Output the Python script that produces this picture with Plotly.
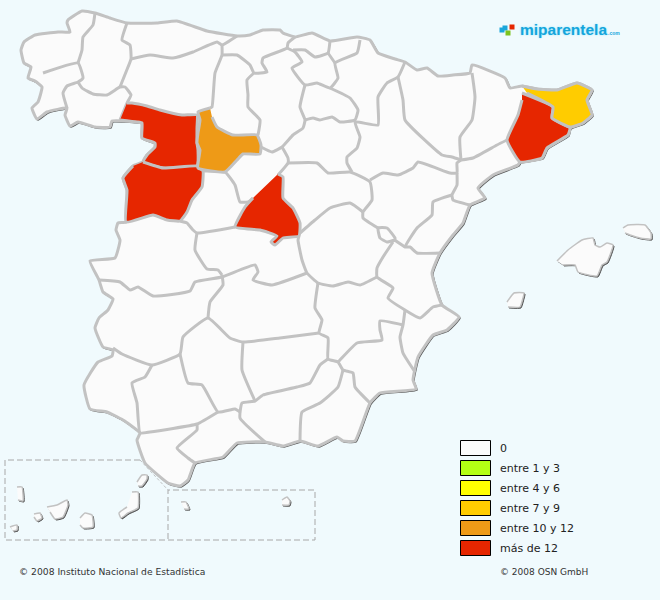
"""Spain province map of surname counts, redrawn with Plotly scatter polygons.
All outlines are in image pixels, x to the right and y downward.
"""

import plotly.graph_objects as go

# colours of the count classes
class_labels = ["0", "entre 1 y 3", "entre 4 y 6", "entre 7 y 9", "entre 10 y 12", "más de 12"]
class_colors = ["#FBFBFB", "#B4FF14", "#FFFF00", "#FFCC00", "#EE9A17", "#E62600"]

BACKGROUND = "#F0FAFD"
BORDER = "#C2C2C2"
SHADOW = "#555555"
DASH = "#A8A8A8"

# outline of the mainland
mainland = [
    (82, 11), (95, 13), (110, 18), (127, 23), (157, 23), (177, 21), (207, 31), (237, 36),
    (250, 35), (263, 30), (280, 30), (283, 33), (295, 37), (312, 33), (330, 41), (357, 37),
    (370, 40), (378, 53), (395, 59), (405, 62), (417, 70), (427, 68), (438, 76), (453, 75),
    (470, 73), (472, 65), (505, 78), (510, 88), (522, 86), (537, 89), (557, 90), (577, 83),
    (592, 90), (587, 100), (592, 115), (583, 123), (570, 128), (568, 135), (547, 148),
    (542, 158), (520, 162), (518, 165), (493, 175), (478, 188), (485, 198), (470, 205),
    (463, 223), (453, 235), (440, 253), (432, 273), (442, 305), (459, 317), (447, 330),
    (433, 335), (418, 357), (413, 380), (416, 389), (380, 393), (370, 403), (355, 441),
    (343, 441), (337, 437), (318, 446), (300, 441), (283, 446), (265, 442), (237, 443),
    (223, 457), (195, 463), (188, 480), (180, 486), (168, 483), (145, 463), (137, 440),
    (140, 433), (123, 420), (107, 412), (90, 409), (84, 385), (98, 362), (112, 356),
    (113, 350), (103, 347), (95, 328), (99, 318), (108, 310), (113, 299), (103, 292),
    (99, 280), (90, 261), (115, 258), (120, 240), (116, 230), (118, 223), (126, 222),
    (127, 190), (123, 178), (133, 166), (143, 162), (147, 155), (155, 147), (155, 143),
    (142, 138), (142, 123), (137, 122), (112, 121), (110, 127), (95, 127), (78, 122),
    (70, 126), (65, 115), (67, 108), (47, 112), (37, 119), (32, 108), (38, 102), (42, 87),
    (35, 81), (28, 78), (31, 67), (24, 63), (21, 50), (24, 42), (35, 35), (58, 32),
    (70, 32), (67, 23), (68, 20), (82, 11),
]

# islands and the two cities
mallorca = [(557, 261), (568, 250), (582, 240), (593, 238), (595, 245), (600, 247), (607, 243),
            (613, 245), (607, 262), (602, 265), (597, 276), (578, 272), (575, 265), (563, 265)]
menorca = [(623, 228), (628, 225), (645, 225), (651, 233), (651, 239), (640, 238), (630, 235), (625, 233)]
ibiza = [(507, 302), (514, 293), (524, 293), (523, 298), (520, 307), (508, 307)]
lanzarote = [(137, 482), (142, 475), (147, 475), (147, 479), (142, 486), (138, 486)]
fuerteventura = [(132, 492), (138, 492), (138, 508), (128, 513), (121, 518), (119, 513), (127, 507)]
gran_canaria = [(80, 518), (85, 513), (92, 515), (93, 527), (83, 528), (80, 525)]
tenerife = [(47, 507), (57, 505), (67, 500), (68, 505), (63, 517), (55, 519), (50, 512)]
la_gomera = [(34, 514), (40, 513), (42, 518), (37, 521), (34, 517)]
la_palma = [(17, 487), (22, 487), (23, 501), (18, 500)]
el_hierro = [(10, 527), (17, 525), (17, 530), (13, 531)]
ceuta = [(181, 502), (186, 502), (189, 509), (184, 509)]
melilla = [(282, 500), (287, 497), (290, 501), (289, 505), (282, 505)]
islands = [mallorca, menorca, ibiza, lanzarote, fuerteventura, gran_canaria, tenerife,
           la_gomera, la_palma, el_hierro, ceuta, melilla]

# provinces with a count above zero
zamora = [(127, 103), (132, 103), (147, 106), (160, 110), (182, 115), (197, 115), (197, 128),
          (197, 143), (198, 150), (197, 166), (163, 168), (143, 162), (147, 155), (155, 147),
          (155, 143), (142, 138), (142, 123), (137, 122), (120, 120)]
salamanca = [(143, 162), (163, 168), (197, 166), (203, 171), (202, 187), (192, 200), (187, 212),
             (180, 221), (167, 220), (153, 215), (126, 222), (127, 190), (123, 178), (133, 166)]
valladolid = [(210, 108), (198, 112), (200, 120), (198, 133), (197, 143), (200, 150), (198, 168),
              (225, 172), (237, 160), (243, 154), (260, 154), (261, 145), (257, 135), (233, 135),
              (217, 127), (212, 117)]
madrid = [(278, 174), (283, 177), (283, 198), (293, 208), (300, 223), (299, 236), (283, 238),
          (275, 245), (271, 242), (277, 236), (260, 230), (235, 227), (245, 207), (253, 198)]
barcelona = [(522, 93), (553, 107), (552, 118), (570, 128), (568, 135), (547, 148), (542, 158),
             (520, 162), (507, 140), (518, 115), (522, 100)]
girona = [(522, 86), (537, 89), (557, 90), (577, 83), (592, 90), (587, 100), (592, 115), (583, 123),
          (570, 127), (552, 118), (553, 107), (527, 93)]
province_shapes = [zamora, salamanca, valladolid, madrid, barcelona, girona]
province_classes = [5, 5, 4, 5, 5, 3]

# borders between provinces
borders = [
    [(95, 13), (93, 25), (83, 37), (82, 50), (78, 63)],
    [(43, 73), (78, 63), (83, 78), (78, 82), (67, 86), (63, 93), (67, 108)],
    [(78, 82), (82, 88), (93, 94), (107, 95), (120, 87), (125, 87), (131, 95), (127, 103), (120, 120)],
    [(127, 23), (122, 40), (130, 45), (131, 59), (126, 72), (120, 87)],
    [(131, 59), (150, 55), (173, 58), (193, 52), (217, 42), (222, 45), (237, 36)],
    [(222, 45), (222, 55), (215, 73), (212, 107), (210, 108)],
    [(222, 55), (237, 55), (250, 65), (254, 73), (267, 72), (262, 63), (263, 58), (287, 48), (288, 43), (295, 37)],
    [(254, 73), (247, 80), (248, 95), (248, 107), (260, 120), (258, 135)],
    [(287, 48), (295, 52), (302, 62), (292, 68), (305, 85), (317, 83), (330, 88), (338, 78), (335, 63),
     (357, 53), (360, 40)],
    [(293, 50), (305, 50), (315, 57), (328, 53), (330, 41)],
    [(328, 53), (335, 63)],
    [(305, 85), (300, 107), (305, 120), (303, 128), (293, 135), (282, 147), (272, 152), (261, 147)],
    [(330, 88), (350, 98), (358, 110), (355, 120), (340, 122), (332, 117), (320, 120), (313, 118), (305, 120)],
    [(405, 62), (398, 77), (387, 83), (378, 97), (378, 125), (355, 122), (360, 137), (357, 148),
     (347, 157), (347, 163), (352, 172)],
    [(398, 77), (403, 100), (405, 120), (442, 155), (452, 157), (461, 160)],
    [(472, 73), (475, 97), (472, 120), (460, 137), (461, 160)],
    [(461, 160), (473, 158), (497, 145), (507, 140)],
    [(370, 180), (383, 173), (398, 175), (413, 168), (418, 162), (450, 173), (457, 173), (457, 163), (461, 160)],
    [(457, 173), (457, 185), (452, 195), (453, 200), (470, 205)],
    [(452, 195), (433, 202), (432, 215), (417, 228), (405, 247), (410, 247), (417, 253), (440, 253)],
    [(405, 247), (395, 240), (395, 238), (387, 228), (378, 228), (380, 238), (387, 242), (395, 240)],
    [(393, 242), (383, 257), (377, 268), (377, 277), (393, 288), (388, 298), (405, 310), (420, 318),
     (433, 307), (442, 305)],
    [(405, 310), (403, 325), (400, 337), (403, 353), (415, 372)],
    [(403, 325), (380, 321), (380, 330), (382, 340), (357, 343), (340, 360), (338, 362)],
    [(377, 277), (360, 285), (348, 282), (333, 286), (318, 283), (307, 273), (302, 260), (298, 240), (299, 236)],
    [(318, 283), (315, 308), (322, 320), (319, 333), (328, 338), (328, 359), (338, 362), (343, 370),
     (353, 373), (355, 387), (370, 403)],
    [(319, 333), (280, 338), (243, 342), (230, 338), (208, 318), (183, 337), (180, 354), (152, 365),
     (122, 354), (113, 348)],
    [(328, 359), (320, 365), (310, 383), (297, 387), (263, 395), (255, 401), (242, 403), (240, 418), (265, 442)],
    [(343, 370), (338, 387), (320, 403), (302, 412), (300, 441)],
    [(243, 342), (242, 370), (255, 401)],
    [(180, 354), (188, 383), (202, 385), (218, 412), (235, 409), (240, 412)],
    [(152, 365), (145, 377), (132, 383), (137, 403), (140, 433), (150, 432), (197, 424), (218, 412)],
    [(197, 424), (197, 430), (177, 448), (188, 458), (195, 463)],
    [(99, 280), (120, 282), (130, 290), (138, 287), (153, 296), (190, 291), (195, 282), (222, 277),
     (255, 265), (258, 272), (253, 280), (272, 285), (307, 273)],
    [(222, 275), (223, 285), (210, 302), (208, 318)],
    [(197, 233), (195, 250), (207, 269), (218, 270), (222, 275)],
    [(180, 221), (187, 223), (193, 230), (197, 233), (235, 227)],
    [(203, 171), (225, 172), (235, 185), (240, 202), (248, 202), (253, 198)],
    [(282, 147), (288, 158), (288, 163), (278, 175)],
    [(288, 163), (317, 163), (328, 173), (350, 172), (370, 182), (372, 200), (363, 212), (363, 218), (378, 228)],
    [(363, 212), (350, 203), (330, 208), (315, 220), (300, 233)],
]

# dashed inset frames of the Canary Islands, Ceuta and Melilla
inset_frame = [(140, 460), (5, 460), (5, 540), (315, 540), (315, 490), (168, 490), (168, 540)]
inset_diagonal = [(140, 460), (168, 490)]

# coloured dots of the logo
logo_x = [505, 512, 508, 502]
logo_y = [28, 27, 33, 30]
logo_colors = ["#1AA6DB", "#E62600", "#7CC31E", "#1AA6DB"]


def xs(points, shift=0):
    return [p[0] + shift for p in points]


def ys(points, shift=0):
    return [p[1] + shift for p in points]


def add_polygon(fig, points, fill, line_color=BORDER, width=3, shift=0):
    fig.add_trace(
        go.Scatter(
            x=xs(points, shift),
            y=ys(points, shift),
            mode="lines",
            fill="toself",
            fillcolor=fill,
            line={"color": line_color, "width": width, "shape": "spline", "smoothing": 0.4},
            hoverinfo="skip",
            showlegend=False,
        )
    )


def add_line(fig, points, color=BORDER, width=3, dash="solid", shape="spline"):
    fig.add_trace(
        go.Scatter(
            x=xs(points),
            y=ys(points),
            mode="lines",
            line={"color": color, "width": width, "dash": dash, "shape": shape, "smoothing": 0.4},
            hoverinfo="skip",
            showlegend=False,
        )
    )


fig = go.Figure()

add_line(fig, inset_frame, color=DASH, width=1, dash="6px,3px", shape="linear")
add_line(fig, inset_diagonal, color=DASH, width=0.7, dash="3px,2px", shape="linear")

# land with its dark edge on the side facing south-east
add_polygon(fig, mainland, SHADOW, line_color=SHADOW, width=1.5, shift=1)
for shape in islands:
    add_polygon(fig, shape, SHADOW, line_color=SHADOW, width=1, shift=1)
add_polygon(fig, mainland, class_colors[0])
for shape in islands:
    add_polygon(fig, shape, class_colors[0], width=1.5)
for border in borders:
    add_line(fig, border)
for shape, cls in zip(province_shapes, province_classes):
    add_polygon(fig, shape, class_colors[cls])

fig.add_trace(
    go.Scatter(
        x=logo_x,
        y=logo_y,
        mode="markers",
        marker={"color": logo_colors, "size": 5, "symbol": "square"},
        hoverinfo="skip",
        showlegend=False,
    )
)

# legend drawn by hand, one row for each class
for i, (label, color) in enumerate(zip(class_labels, class_colors)):
    top = 440.5 + 20 * i
    fig.add_shape(
        type="rect", x0=460.5, x1=490.5, y0=top, y1=top + 15,
        fillcolor=color, line={"color": "#000000", "width": 1},
    )
    fig.add_annotation(
        x=498, y=top + 7.5, text=label, showarrow=False, xanchor="left",
        font={"family": "DejaVu Sans", "size": 11, "color": "#222222"},
    )

fig.add_annotation(
    x=17, y=571.5, text="© 2008 Instituto Nacional de Estadística", showarrow=False, xanchor="left",
    font={"family": "DejaVu Sans", "size": 9.2, "color": "#333333"},
)
fig.add_annotation(
    x=498, y=571.5, text="© 2008 OSN GmbH", showarrow=False, xanchor="left",
    font={"family": "DejaVu Sans", "size": 9, "color": "#333333"},
)
fig.add_annotation(
    x=518, y=29, text="<b>miparentela</b>", showarrow=False, xanchor="left",
    font={"family": "Liberation Sans", "size": 15.5, "color": "#14A5DC", "shadow": "0 0 2px #8FE3F7"},
)
fig.add_annotation(
    x=606, y=32.5, text="<b>.com</b>", showarrow=False, xanchor="left",
    font={"family": "Liberation Sans", "size": 5, "color": "#14A5DC"},
)

fig.update_layout(
    width=660,
    height=600,
    margin={"l": 0, "r": 0, "t": 0, "b": 0},
    paper_bgcolor=BACKGROUND,
    plot_bgcolor=BACKGROUND,
    xaxis={"range": [0, 660], "visible": False},
    yaxis={"range": [600, 0], "visible": False},
)

fig.write_html("out.html", config={"displayModeBar": False}, post_script="document.body.style.margin='0';")
